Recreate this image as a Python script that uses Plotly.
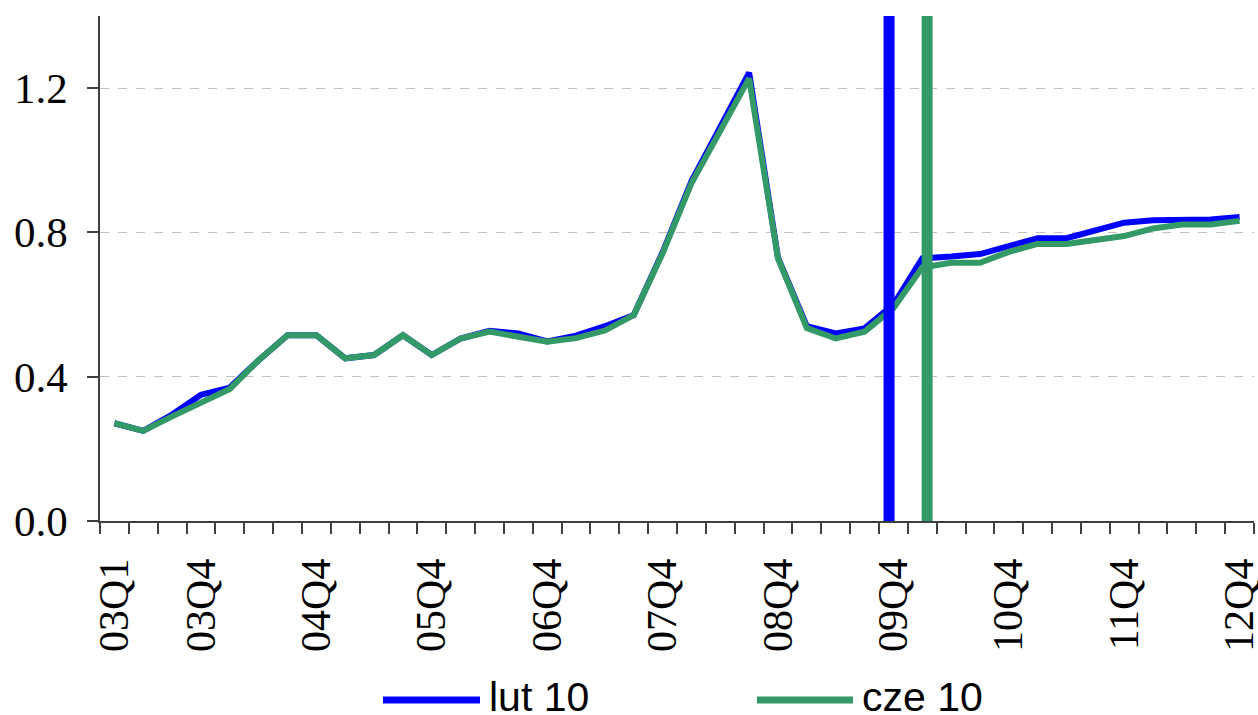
import plotly.graph_objects as go

categories = ["03Q1", "03Q2", "03Q3", "03Q4", "04Q1", "04Q2", "04Q3", "04Q4",
              "05Q1", "05Q2", "05Q3", "05Q4", "06Q1", "06Q2", "06Q3", "06Q4",
              "07Q1", "07Q2", "07Q3", "07Q4", "08Q1", "08Q2", "08Q3", "08Q4",
              "09Q1", "09Q2", "09Q3", "09Q4", "10Q1", "10Q2", "10Q3", "10Q4",
              "11Q1", "11Q2", "11Q3", "11Q4", "12Q1", "12Q2", "12Q3", "12Q4"]

lut10 = [0.271, 0.250, 0.295, 0.350, 0.370, 0.446, 0.515, 0.515, 0.451, 0.460,
         0.515, 0.460, 0.506, 0.527, 0.520, 0.498, 0.514, 0.540, 0.571, 0.745,
         0.942, 1.092, 1.243, 0.730, 0.540, 0.520, 0.534, 0.600, 0.728, 0.733,
         0.740, 0.762, 0.784, 0.784, 0.807, 0.827, 0.834, 0.836, 0.836, 0.843]

cze10 = [0.271, 0.250, 0.290, 0.328, 0.366, 0.446, 0.515, 0.515, 0.451, 0.460,
         0.515, 0.460, 0.506, 0.525, 0.512, 0.497, 0.507, 0.528, 0.571, 0.742,
         0.936, 1.085, 1.227, 0.728, 0.535, 0.506, 0.525, 0.590, 0.703, 0.716,
         0.716, 0.746, 0.768, 0.768, 0.781, 0.790, 0.811, 0.822, 0.822, 0.832]

shown_labels = ["03Q1", "03Q4", "04Q4", "05Q4", "06Q4", "07Q4", "08Q4",
                "09Q4", "10Q4", "11Q4", "12Q4"]

# forecast-start markers (position on the quarter index scale)
marker_lut_x = 26.85
marker_cze_x = 28.17
marker_top = 1.422

series_names = ["lut 10", "cze 10"]
BLUE = "#0000FF"
GREEN = "#339966"
AXIS = "#404040"

xs = list(range(len(categories)))
label_pos = [categories.index(c) for c in shown_labels]
boundaries = [i - 0.5 for i in range(len(categories) + 1)]

fig = go.Figure()
fig.add_trace(go.Scatter(x=xs, y=lut10, mode="lines", name=series_names[0],
                         line=dict(color=BLUE, width=6), showlegend=False))
fig.add_trace(go.Scatter(x=xs, y=cze10, mode="lines", name=series_names[1],
                         line=dict(color=GREEN, width=6), showlegend=False))
fig.add_trace(go.Scatter(x=[marker_lut_x, marker_lut_x], y=[0, marker_top], mode="lines",
                         line=dict(color=BLUE, width=11), showlegend=False,
                         cliponaxis=False, hoverinfo="skip"))
fig.add_trace(go.Scatter(x=[marker_cze_x, marker_cze_x], y=[0, marker_top], mode="lines",
                         line=dict(color=GREEN, width=11), showlegend=False,
                         cliponaxis=False, hoverinfo="skip"))

fig.update_layout(
    width=1258, height=715,
    margin=dict(l=100, r=4, t=16, b=194),
    paper_bgcolor="white", plot_bgcolor="white",
    font=dict(family="Liberation Serif", size=43, color="black"),
    showlegend=False,
)
fig.update_xaxes(
    type="linear", range=[-0.5, len(categories) - 0.5],
    tickmode="array", tickvals=label_pos, ticktext=shown_labels,
    tickangle=-90, ticks="", ticklabelstandoff=19, ticklabeloverflow="allow",
    tickfont=dict(size=42),
    automargin=False,
    showline=True, linecolor=AXIS, linewidth=1.5, showgrid=False, zeroline=False,
    minor=dict(tickmode="array", tickvals=boundaries, ticks="outside",
               ticklen=11, tickwidth=1.5, tickcolor=AXIS, showgrid=False),
)
fig.update_yaxes(
    range=[0, 1.4], tickmode="linear", tick0=0, dtick=0.4, tickformat=".1f",
    ticks="outside", ticklen=11, tickwidth=1.5, tickcolor=AXIS, ticklabelstandoff=11,
    automargin=False,
    showline=True, linecolor=AXIS, linewidth=1.5,
    showgrid=True, gridcolor="#c0c0c0", griddash="dash", gridwidth=1, zeroline=False,
)

# legend drawn manually below the plot (long line samples as in the original)
legend_items = [(series_names[0], BLUE, 0.2452, 0.3293, 0.3354),
                (series_names[1], GREEN, 0.5693, 0.6525, 0.6586)]
leg_line_y = -0.3545
leg_text_y = -0.349
for name, col, x0, x1, xt in legend_items:
    fig.add_shape(type="line", xref="paper", yref="paper", x0=x0, x1=x1,
                  y0=leg_line_y, y1=leg_line_y, line=dict(color=col, width=7))
    fig.add_annotation(xref="paper", yref="paper", x=xt, y=leg_text_y, text=name,
                       showarrow=False, xanchor="left", yanchor="middle",
                       font=dict(family="Liberation Sans", size=41, color="black"))

fig.write_html("out.html", config={"displayModeBar": False},
               post_script="document.body.style.margin='0';")
